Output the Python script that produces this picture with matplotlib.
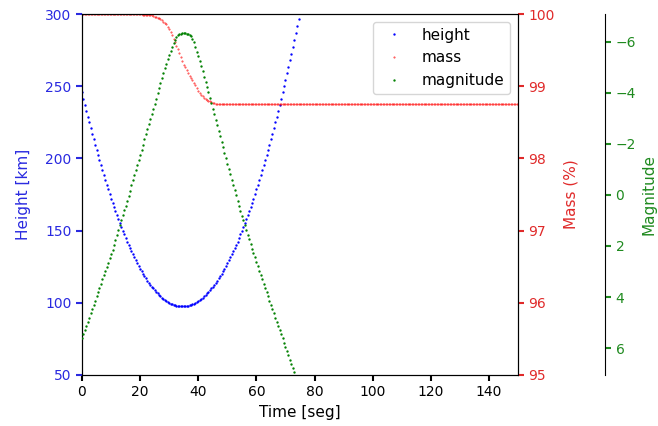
import numpy as np
import matplotlib
matplotlib.use("Agg")
import matplotlib.pyplot as plt

# ---- data ----
dt = 0.5  # sampling step in seconds

height = [
    245.7, 241.4, 237.2, 233.1, 229.0, 225.0, 221.0, 217.1, 213.3, 209.6,
    205.8, 202.2, 198.6, 195.1, 191.7, 188.3, 184.9, 181.7, 178.5, 175.3,
    172.2, 169.2, 166.3, 163.4, 160.5, 157.8, 155.1, 152.4, 149.8, 147.3,
    144.8, 142.4, 140.1, 137.8, 135.6, 133.5, 131.4, 129.4, 127.4, 125.5,
    123.7, 121.9, 120.2, 118.5, 117.0, 115.4, 114.0, 112.6, 111.2, 110.0,
    108.7, 107.6, 106.5, 105.5, 104.5, 103.6, 102.8, 102.0, 101.3, 100.6,
    100.0, 99.5, 99.0, 98.6, 98.3, 98.0, 97.8, 97.6, 97.5, 97.5,
    97.5, 97.6, 97.8, 98.0, 98.3, 98.6, 99.0, 99.5, 100.0, 100.6,
    101.3, 102.0, 102.8, 103.6, 104.5, 105.5, 106.5, 107.6, 108.7, 110.0,
    111.2, 112.6, 114.0, 115.4, 117.0, 118.5, 120.2, 121.9, 123.7, 125.5,
    127.4, 129.4, 131.4, 133.5, 135.6, 137.8, 140.1, 142.4, 144.8, 147.3,
    149.8, 152.4, 155.1, 157.8, 160.5, 163.4, 166.3, 169.2, 172.2, 175.3,
    178.5, 181.7, 184.9, 188.3, 191.7, 195.1, 198.6, 202.2, 205.8, 209.6,
    213.3, 217.1, 221.0, 225.0, 229.0, 233.1, 237.2, 241.4, 245.7, 250.0,
    254.4, 258.9, 263.4, 267.9, 272.6, 277.3, 282.0, 286.9, 291.8, 296.7,
    301.7,
]

mass = [
    100.0, 100.0, 100.0, 100.0, 100.0, 100.0, 100.0, 100.0, 100.0, 100.0,
    100.0, 100.0, 100.0, 100.0, 100.0, 100.0, 100.0, 100.0, 100.0, 100.0,
    100.0, 100.0, 100.0, 100.0, 100.0, 100.0, 100.0, 100.0, 100.0, 100.0,
    100.0, 100.0,
    99.995, 99.995, 99.995, 99.995, 99.995, 99.995, 99.995, 99.995, 99.995, 99.995,
    99.993, 99.993, 99.99, 99.99, 99.988, 99.985, 99.98, 99.973, 99.965, 99.958,
    99.95, 99.94, 99.93, 99.913, 99.895, 99.875, 99.855, 99.825, 99.79, 99.75,
    99.71, 99.66, 99.61, 99.56, 99.51, 99.455, 99.40, 99.35, 99.30, 99.26,
    99.22, 99.18, 99.145, 99.11, 99.08, 99.045, 99.01, 98.975, 98.94, 98.91,
    98.88, 98.86, 98.84, 98.825, 98.81, 98.80, 98.79, 98.78, 98.77, 98.765,
    98.76, 98.757, 98.755, 98.752,
    98.75, 98.75, 98.75, 98.75, 98.75, 98.75, 98.75, 98.75, 98.75, 98.75,
    98.75, 98.75, 98.75, 98.75, 98.75, 98.75, 98.75, 98.75, 98.75, 98.75,
    98.75, 98.75, 98.75, 98.75, 98.75, 98.75, 98.75, 98.75, 98.75, 98.75,
    98.75, 98.75, 98.75, 98.75, 98.75, 98.75, 98.75, 98.75, 98.75, 98.75,
    98.75, 98.75, 98.75, 98.75, 98.75, 98.75, 98.75, 98.75, 98.75, 98.75,
    98.75, 98.75, 98.75, 98.75, 98.75, 98.75, 98.75, 98.75, 98.75, 98.75,
    98.75, 98.75, 98.75, 98.75, 98.75, 98.75, 98.75, 98.75, 98.75, 98.75,
    98.75, 98.75, 98.75, 98.75, 98.75, 98.75, 98.75, 98.75, 98.75, 98.75,
    98.75, 98.75, 98.75, 98.75, 98.75, 98.75, 98.75, 98.75, 98.75, 98.75,
    98.75, 98.75, 98.75, 98.75, 98.75, 98.75, 98.75, 98.75, 98.75, 98.75,
    98.75, 98.75, 98.75, 98.75, 98.75, 98.75, 98.75, 98.75, 98.75, 98.75,
    98.75, 98.75, 98.75, 98.75, 98.75, 98.75, 98.75, 98.75, 98.75, 98.75,
    98.75, 98.75, 98.75, 98.75, 98.75, 98.75, 98.75, 98.75, 98.75, 98.75,
    98.75, 98.75, 98.75, 98.75, 98.75, 98.75, 98.75, 98.75, 98.75, 98.75,
    98.75, 98.75, 98.75, 98.75, 98.75, 98.75, 98.75, 98.75, 98.75, 98.75,
    98.75, 98.75, 98.75, 98.75, 98.75, 98.75, 98.75, 98.75, 98.75, 98.75,
    98.75, 98.75, 98.75, 98.75, 98.75, 98.75, 98.75, 98.75, 98.75, 98.75,
    98.75, 98.75, 98.75, 98.75, 98.75, 98.75, 98.75, 98.75, 98.75, 98.75,
    98.75, 98.75, 98.75, 98.75, 98.75, 98.75, 98.75, 98.75, 98.75, 98.75,
    98.75, 98.75, 98.75, 98.75, 98.75, 98.75, 98.75, 98.75, 98.75, 98.75,
    98.75, 98.75, 98.75, 98.75, 98.75,
]

magnitude = [
    5.62, 5.46, 5.29, 5.13, 4.96, 4.80, 4.63, 4.47, 4.30, 4.14,
    3.97, 3.81, 3.64, 3.48, 3.31, 3.15, 2.98, 2.82, 2.65, 2.49,
    2.32, 2.14, 1.95, 1.76, 1.57, 1.38, 1.19, 1.00, 0.80, 0.61,
    0.42, 0.23, 0.03, -0.17, -0.37, -0.57, -0.77, -0.97, -1.17, -1.37,
    -1.57, -1.77, -1.97, -2.17, -2.37, -2.57, -2.77, -2.97, -3.17, -3.37,
    -3.57, -3.77, -3.97, -4.17, -4.37, -4.57, -4.76, -4.95, -5.13, -5.31,
    -5.48, -5.65, -5.80, -5.95, -6.08, -6.19, -6.26, -6.29, -6.31, -6.32,
    -6.32, -6.32, -6.31, -6.30, -6.27, -6.21, -6.12, -5.97, -5.80, -5.61,
    -5.42, -5.23, -5.03, -4.83, -4.63, -4.43, -4.22, -4.01, -3.80, -3.59,
    -3.37, -3.16, -2.94, -2.73, -2.51, -2.30, -2.08, -1.87, -1.65, -1.44,
    -1.22, -1.01, -0.80, -0.60, -0.39, -0.19, 0.02, 0.22, 0.42, 0.62,
    0.81, 1.00, 1.19, 1.38, 1.56, 1.74, 1.92, 2.10, 2.27, 2.45,
    2.62, 2.79, 2.96, 3.13, 3.30, 3.47, 3.64, 3.81, 3.97, 4.14,
    4.30, 4.47, 4.63, 4.80, 4.96, 5.13, 5.29, 5.46, 5.62, 5.79,
    5.95, 6.12, 6.28, 6.45, 6.61, 6.78, 6.94, 7.11, 7.27,
]

t_height = np.arange(len(height)) * dt
t_mass = np.arange(len(mass)) * dt
t_mag = np.arange(len(magnitude)) * dt

xticks = [0, 20, 40, 60, 80, 100, 120, 140]

# ---- figure ----
plt.rcParams["font.size"] = 11
W, H = 658, 426
fig = plt.figure(figsize=(W / 100, H / 100), dpi=100)
host = fig.add_axes([82 / W, 1 - 375 / H, 436 / W, 361 / H])
par1 = host.twinx()
par2 = host.twinx()

par2.spines["right"].set_position(("axes", 1.2))
par2.set_frame_on(True)
par2.patch.set_visible(False)
for sp in par2.spines.values():
    sp.set_visible(False)
par2.spines["right"].set_visible(True)

BLUE, RED, GREEN = "#2a2ae0", "#e02a2a", "#1f8a1f"

p1, = host.plot(t_height, height, ".", color="b", ms=1.4, label="height")
p2, = par1.plot(t_mass, mass, ".", color="r", ms=0.9, alpha=0.8, label="mass")
p3, = par2.plot(t_mag, magnitude, ".", color="g", ms=1.4, label="magnitude")

host.set_xlim(0, 150)
host.set_ylim(50, 300)
par1.set_ylim(95, 100)
par2.set_ylim(7.05, -7.08)
host.set_xticks(xticks)

host.set_xlabel("Time [seg]")
host.set_ylabel("Height [km]", color=BLUE, labelpad=10)
par1.set_ylabel("Mass (%)", color=RED, labelpad=6)
par2.set_ylabel("Magnitude", color=GREEN, labelpad=4)

tkw = dict(size=4, width=1.5, labelsize=10)
host.tick_params(axis="y", colors=BLUE, **tkw)
par1.tick_params(axis="y", colors=RED, **tkw)
par2.tick_params(axis="y", colors=GREEN, **tkw)
host.tick_params(axis="x", **tkw)

lines = [p1, p2, p3]
par2.legend(lines, [l.get_label() for l in lines], loc="upper right")

fig.savefig("out.png", dpi=100)
